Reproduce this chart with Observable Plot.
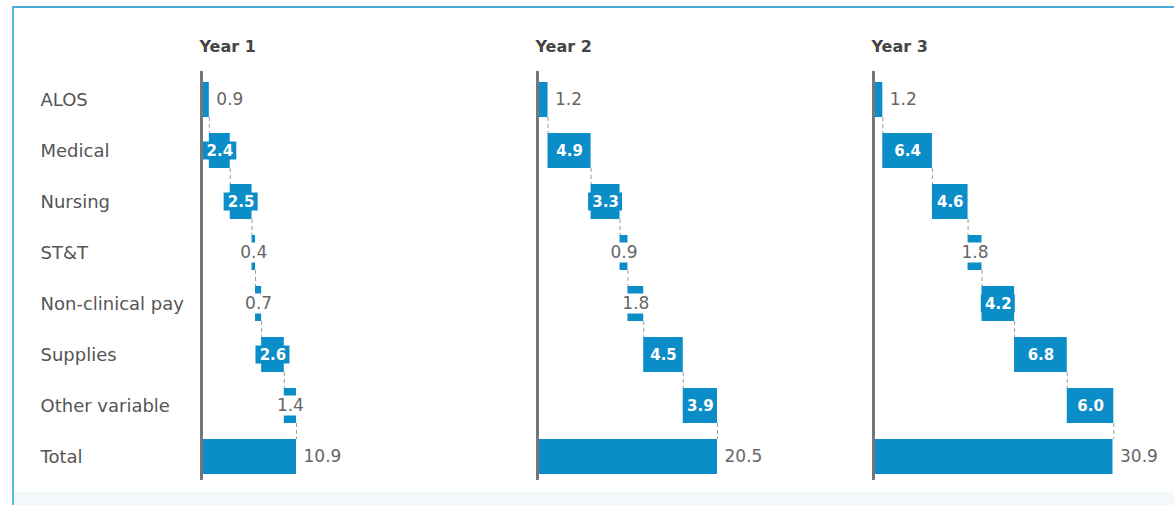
<!DOCTYPE html>
<html><head><meta charset="utf-8">
<script src="https://cdn.jsdelivr.net/npm/d3@7"></script>
<script src="https://cdn.jsdelivr.net/npm/@observablehq/plot@0.6"></script>
<style>
html,body{margin:0;padding:0;background:#fff;width:1174px;height:505px;overflow:hidden;}
#frame{position:absolute;left:12px;top:6px;width:1200px;height:520px;border-top:2.5px solid #4aa8d8;border-left:2.5px solid #5ab6e2;background:linear-gradient(#fff 0, #fff 484px, #f3f8fb 484px);}
#charts{position:absolute;left:0;top:0;width:1174px;height:505px;}
#charts svg{position:absolute;top:0;}
</style></head><body>
<div id="frame"></div>
<div id="charts"></div>
<script>
const categories = ["ALOS", "Medical", "Nursing", "ST&T", "Non-clinical pay", "Supplies", "Other variable", "Total"];
const years = ["Year 1", "Year 2", "Year 3"];
const year1 = [0.9, 2.4, 2.5, 0.4, 0.7, 2.6, 1.4];
const year2 = [1.2, 4.9, 3.3, 0.9, 1.8, 4.5, 3.9];
const year3 = [1.2, 6.4, 4.6, 1.8, 4.2, 6.8, 6.0];
const totals = [10.9, 20.5, 30.9];

const series = [year1, year2, year3];
const panels = [
  {left: 0, width: 520, range: [201, 296], marginLeft: 201},
  {left: 520, width: 336, range: [17, 197], marginLeft: 0},
  {left: 856, width: 318, range: [17, 256.5], marginLeft: 0}
];

const BLUE = "#0b8dc8";
const H = 505, MT = 71, MB = 25;
const yRange = [70, 485], padIn = 0.32, padOut = 0.2;
const step = (yRange[1] - yRange[0]) / (categories.length - padIn + 2 * padOut);
const bw = step * (1 - padIn);

function buildRows(vals, total) {
  let c = 0;
  const r = vals.map((v, i) => {
    const x1 = c; c += v;
    return {cat: categories[i], v, x1, x2: c};
  });
  r.push({cat: categories[categories.length - 1], v: total, x1: 0, x2: total});
  r.forEach((d, i) => {
    d.mid = (d.x1 + d.x2) / 2;
    d.label = d.v.toFixed(1);
    d.kind = (i === 0 || i === r.length - 1) ? "out" : (d.v >= 2 ? "in" : "small");
  });
  return r;
}

const container = document.getElementById("charts");
series.forEach((vals, k) => {
  const rows = buildRows(vals, totals[k]);
  const links = rows.slice(0, -1).map((d, i) => ({from: d.cat, to: rows[i + 1].cat, x: d.x2}));
  const p = panels[k];
  const marks = [
    Plot.ruleX(links, {x: "x", y1: "from", y2: "to", insetTop: bw, insetBottom: bw,
      stroke: "#9a9a9a", strokeWidth: 1, strokeDasharray: "4,3"}),
    Plot.barX(rows, {x1: "x1", x2: "x2", y: "cat", fill: BLUE}),
    Plot.barX(rows.filter(d => d.kind === "in"), {x1: "mid", x2: "mid", y: "cat", fill: BLUE,
      insetLeft: -17, insetRight: -17, insetTop: 8.5, insetBottom: 8.5}),
    Plot.barX(rows.filter(d => d.kind === "small"), {x1: "mid", x2: "mid", y: "cat", fill: "white",
      insetLeft: -14, insetRight: -14, insetTop: 7.5, insetBottom: 7.5}),
    Plot.text(rows.filter(d => d.kind === "in"), {x: "mid", y: "cat", text: "label", fill: "white",
      fontWeight: "bold", fontSize: 15}),
    Plot.text(rows.filter(d => d.kind === "small"), {x: "mid", y: "cat", text: "label", fill: "#666",
      fontSize: 17}),
    Plot.text(rows.filter(d => d.kind === "out"), {x: "x2", y: "cat", text: "label", fill: "#666",
      fontSize: 17, textAnchor: "start", dx: 7}),
    Plot.ruleX([0], {stroke: "#777", strokeWidth: 3}),
    Plot.text([{t: years[k], x: 0}], {x: "x", text: "t", frameAnchor: "top", lineAnchor: "middle",
      dy: -25, dx: -2, textAnchor: "start", fontWeight: "bold", fontSize: 16, fill: "#444"})
  ];
  if (k === 0) {
    marks.push(Plot.axisY({anchor: "left", tickSize: 0, tickPadding: 0, textAnchor: "start", dx: -161,
      fontSize: 18, fill: "#555", label: null}));
  }
  const chart = Plot.plot({
    width: p.width,
    height: H,
    marginTop: MT,
    marginBottom: MB,
    marginLeft: p.marginLeft,
    marginRight: 0,
    style: {background: "transparent", fontFamily: "DejaVu Sans", fontSize: "17px", overflow: "visible"},
    x: {domain: [0, totals[k]], range: p.range, axis: null},
    y: {type: "band", domain: categories, range: yRange, paddingInner: padIn, paddingOuter: padOut,
      axis: k === 0 ? undefined : null},
    marks
  });
  chart.style.left = p.left + "px";
  container.appendChild(chart);
});
</script>
</body></html>
